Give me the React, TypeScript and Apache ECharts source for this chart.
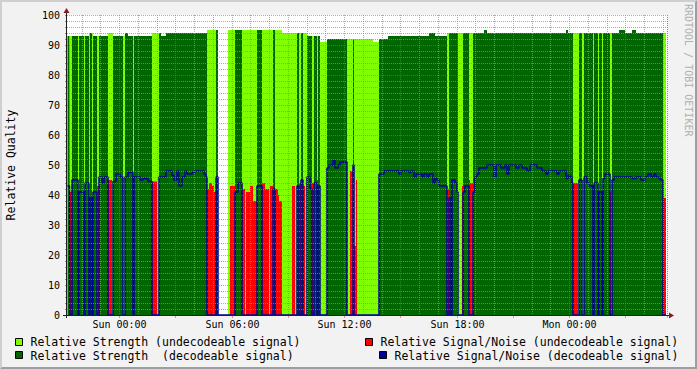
import React, { useEffect, useRef } from "react";
import * as echarts from "echarts";

// Each run: [number of 192-second slots, kind, relative strength, relative S/N]
// kind: D = decodeable signal, U = undecodeable signal, G = no data
type Run = [number, string, number, number];

// Sat 21:13 – Sun 02:49
const runsLateSat: Run[] = [
  [3, "D", 93, 43], [2, "U", 93, 41], [6, "D", 93, 45], [1, "U", 93, 0], [5, "D", 93, 41],
  [1, "U", 93, 0], [4, "D", 93, 44], [1, "U", 94, 0], [2, "D", 94, 39], [1, "U", 94, 39],
  [4, "D", 93, 41], [2, "U", 93, 43], [3, "D", 93, 46], [2, "D", 93, 44], [4, "D", 93, 46],
  [4, "U", 94, 45], [1, "U", 94, 0], [3, "D", 93, 44.5], [4, "D", 93, 47], [3, "D", 93, 46],
  [2, "U", 93, 0], [3, "D", 94, 46], [5, "D", 93, 47.5], [1, "U", 93, 43], [6, "D", 93, 46],
  [3, "D", 93, 45], [5, "D", 93, 45.5], [4, "D", 93, 44.5], [5, "U", 94, 44.5], [2, "U", 94, 0],
  [2, "D", 94, 46], [5, "D", 93, 46], [6, "D", 94, 48],
];
// Sun 02:49 – Sun 08:19
const runsEarlySun: Run[] = [
  [2, "D", 94, 46.5], [3, "D", 94, 45], [2, "D", 94, 48], [3, "D", 94, 43], [3, "D", 94, 46],
  [2, "D", 94, 48], [5, "D", 94, 47], [3, "D", 94, 47.5], [9, "D", 94, 48], [2, "D", 94, 47],
  [1, "D", 94, 46], [2, "U", 95, 42], [3, "U", 95, 44], [2, "U", 95, 43], [2, "U", 95, 41],
  [2, "D", 95, 46], [10, "G", 0, 0], [2, "U", 95, 0], [5, "U", 95, 43], [3, "D", 95, 41],
  [4, "D", 95, 44], [3, "U", 95, 42], [1, "U", 95, 0], [4, "U", 95, 41], [3, "U", 95, 43],
  [4, "U", 95, 38], [5, "D", 95, 43], [3, "U", 95, 44], [4, "U", 95, 42], [1, "U", 95, 0],
  [3, "U", 95, 43], [2, "D", 95, 42],
];
// Sun 08:19 – Sun 13:52
const runsSunMidday: Run[] = [
  [3, "U", 95, 42], [1, "U", 95, 40], [3, "U", 95, 38], [10, "U", 94, 0], [3, "U", 94, 43],
  [2, "U", 94, 0], [2, "D", 94, 43], [2, "U", 94, 44], [2, "D", 94, 45], [2, "U", 94, 43],
  [2, "U", 94, 0], [3, "D", 93, 46], [2, "D", 93, 42], [2, "U", 93, 44], [3, "D", 93, 44],
  [1, "U", 93, 45], [2, "D", 93, 43], [7, "U", 91, 0], [2, "D", 92, 49], [4, "D", 92, 50],
  [2, "D", 92, 51.5], [3, "D", 92, 49], [2, "D", 92, 50], [7, "D", 92, 51], [3, "U", 92, 0],
  [3, "U", 92, 48], [1, "D", 92, 50], [2, "U", 92, 23], [1, "U", 92, 45], [16, "U", 92, 0],
  [6, "U", 91, 0],
];
// Sun 13:52 – Sun 19:22
const runsSunAfternoon: Run[] = [
  [5, "D", 92, 47], [4, "D", 92, 48], [11, "D", 93, 48], [2, "D", 93, 47], [8, "D", 93, 48],
  [2, "D", 93, 47.5], [3, "D", 93, 48], [2, "D", 93, 46], [6, "D", 93, 47], [2, "D", 93, 46],
  [3, "D", 93, 47], [2, "D", 93, 46], [4, "D", 94, 47], [2, "D", 94, 44], [2, "D", 93, 45.5],
  [2, "D", 93, 45], [8, "D", 93, 43], [2, "U", 94, 42], [2, "D", 94, 39], [1, "D", 94, 0],
  [3, "D", 94, 45], [2, "D", 94, 44], [1, "D", 94, 41], [4, "U", 94, 0], [1, "U", 94, 43],
  [2, "D", 94, 41], [4, "D", 94, 43], [1, "U", 94, 45], [3, "U", 94, 44], [2, "D", 94, 41],
  [2, "D", 94, 46], [2, "D", 94, 47], [3, "D", 94, 49],
];
// Sun 19:22 – Mon 00:48
const runsSunEvening: Run[] = [
  [2, "D", 94, 49], [3, "D", 95, 49], [7, "D", 94, 50], [2, "D", 94, 46], [5, "D", 94, 50],
  [4, "D", 94, 49], [2, "D", 94, 50], [2, "D", 94, 47], [7, "D", 94, 50], [3, "D", 94, 49],
  [3, "D", 94, 50], [5, "D", 94, 49], [3, "D", 94, 48], [7, "D", 94, 50], [5, "D", 94, 49],
  [4, "D", 94, 48], [2, "D", 94, 47], [9, "D", 94, 48], [2, "D", 94, 47], [7, "D", 94, 48],
  [2, "D", 95, 45.5], [2, "D", 94, 46.5], [2, "D", 94, 46], [1, "D", 94, 44], [5, "U", 94, 44],
  [1, "U", 94, 0], [3, "D", 94, 45], [2, "U", 94, 0],
];
// Mon 00:48 – Mon 05:13
const runsEarlyMon: Run[] = [
  [3, "D", 94, 46], [2, "D", 94, 44], [4, "D", 94, 43], [1, "U", 94, 0], [4, "D", 94, 44],
  [1, "U", 94, 0], [3, "D", 94, 41], [1, "U", 94, 0], [2, "D", 94, 45.5], [5, "D", 94, 47],
  [1, "U", 94, 41], [1, "U", 94, 0], [2, "D", 94, 45], [5, "D", 94, 46], [6, "D", 95, 46],
  [7, "D", 94, 46], [4, "D", 95, 45.5], [5, "D", 94, 46], [4, "D", 94, 45], [3, "D", 94, 46],
  [3, "D", 94, 47], [3, "D", 94, 46], [2, "D", 94, 47], [3, "D", 94, 46], [2, "D", 94, 45.5],
  [2, "D", 94, 45], [3, "U", 94, 39], [1, "G", 0, 0],
];

const legendNames = [
  "Relative Strength (undecodeable signal)",
  "Relative Strength  (decodeable signal)",
  "Relative Signal/Noise (undecodeable signal)",
  "Relative Signal/Noise (decodeable signal)",
];
const yTitle = "Relative Quality";
const watermark = "RRDTOOL / TOBI OETIKER";

const SLOT_SECONDS = 192;
const SUNDAY_MIDNIGHT_SLOT = 52;
const DAYS = ["Sat", "Sun", "Mon", "Tue"];

const COLORS = {
  lightGreen: "#80FF00",
  darkGreen: "#006600",
  red: "#FF0000",
  blue: "#000099",
  grid: "rgba(143,143,143,0.75)",
  mgrid: "rgba(222,79,79,0.6)",
  axis: "#1F1F1F",
  arrow: "#801F1F",
  back: "#F2F2F2",
};
const FONT = '"DejaVu Sans Mono", monospace';

const allRuns: Run[] = [
  ...runsLateSat, ...runsEarlySun, ...runsSunMidday,
  ...runsSunAfternoon, ...runsSunEvening, ...runsEarlyMon,
];

const strengthU: number[] = [];
const strengthD: number[] = [];
const snrU: number[] = [];
const snrD: number[] = [];
allRuns.forEach(([len, kind, s, n]) => {
  for (let k = 0; k < len; k++) {
    strengthU.push(kind === "U" ? s : 0);
    strengthD.push(kind === "D" ? s : 0);
    snrU.push(kind === "U" ? n : 0);
    snrD.push(kind === "D" ? n : 0);
  }
});

const slotStart = (i: number) => (i - SUNDAY_MIDNIGHT_SLOT) * SLOT_SECONDS - SLOT_SECONDS / 2;
const crosses = (i: number, step: number) => {
  const s = slotStart(i);
  return Math.ceil(s / step) * step < s + SLOT_SECONDS;
};
const pad = (v: number) => String(v).padStart(2, "0");
const fmt = (t: number) => {
  const day = DAYS[Math.floor(t / 86400) + 1];
  const sec = ((t % 86400) + 86400) % 86400;
  return `${day} ${pad(Math.floor(sec / 3600))}:${pad(Math.floor((sec % 3600) / 60))}`;
};
const slotNames = strengthU.map((_, i) => fmt(slotStart(i) + SLOT_SECONDS / 2));
const boundaryLabel = (i: number, step: number) => fmt(Math.ceil(slotStart(i) / step) * step);

export default function App() {
  const ref = useRef<HTMLDivElement>(null);
  useEffect(() => {
    if (!ref.current) return;
    const chart = echarts.init(ref.current, undefined, { renderer: "svg" });
    const legendItems = [
      { name: legendNames[0], color: COLORS.lightGreen, bx: 15.5, by: 338.5, tx: 30.5, ty: 342 },
      { name: legendNames[1], color: COLORS.darkGreen, bx: 15.5, by: 351.5, tx: 30.5, ty: 355.5 },
      { name: legendNames[2], color: COLORS.red, bx: 365.5, by: 338.5, tx: 380.5, ty: 342 },
      { name: legendNames[3], color: COLORS.blue, bx: 379.5, by: 351.5, tx: 394.5, ty: 355.5 },
    ];
    const graphics: any[] = [
      { type: "polygon", z: 100, shape: { points: [[0, 0], [697, 0], [695, 2], [2, 2], [2, 367], [0, 369]] }, style: { fill: "#CFCFCF" } },
      { type: "polygon", z: 100, shape: { points: [[0, 369], [697, 369], [697, 0], [695, 2], [695, 367], [2, 367]] }, style: { fill: "#9E9E9E" } },
      { type: "line", z: 100, shape: { x1: 63, y1: 315.5, x2: 670, y2: 315.5 }, style: { stroke: COLORS.axis, lineWidth: 1 } },
      { type: "line", z: 100, shape: { x1: 66.5, y1: 318, x2: 66.5, y2: 12 }, style: { stroke: COLORS.axis, lineWidth: 1 } },
      { type: "polygon", z: 101, shape: { points: [[669, 312.5], [674, 315.5], [669, 318.5]] }, style: { fill: COLORS.arrow } },
      { type: "polygon", z: 101, shape: { points: [[63.5, 13], [66.5, 8], [69.5, 13]] }, style: { fill: COLORS.arrow } },
      {
        type: "text", z: 100, x: 11, y: 165, rotation: Math.PI / 2,
        style: { text: yTitle, font: `11.5px ${FONT}`, fill: "#000", align: "center", verticalAlign: "middle" },
      },
      {
        type: "text", z: 100, x: 688, y: 4, rotation: -Math.PI / 2,
        style: { text: watermark, font: `10px ${FONT}`, fill: "#B0B0B0", align: "left", verticalAlign: "middle" },
      },
    ];
    legendItems.forEach((it) => {
      graphics.push({ type: "rect", z: 100, shape: { x: it.bx, y: it.by, width: 7, height: 7 }, style: { fill: it.color, stroke: "#000", lineWidth: 1 } });
      graphics.push({ type: "text", z: 100, x: it.tx, y: it.ty, style: { text: it.name, font: `11.5px ${FONT}`, fill: "#000", align: "left", verticalAlign: "middle" } });
    });

    const areaCommon = {
      type: "line", step: "middle", symbol: "none", showSymbol: false, silent: true,
      xAxisIndex: 0, yAxisIndex: 0, z: 2, lineStyle: { width: 0, opacity: 0 },
    };
    chart.setOption({
      animation: false,
      backgroundColor: COLORS.back,
      grid: { left: 67, right: 30, top: 15, bottom: 54, show: true, backgroundColor: "#FFFFFF", borderWidth: 0 },
      xAxis: [
        {
          type: "category", data: slotNames, boundaryGap: true, position: "bottom", z: 3,
          axisLine: { show: false }, axisTick: { show: false }, axisLabel: { show: false },
          splitLine: { show: true, interval: (i: number) => crosses(i, 3600) && !crosses(i, 10800), lineStyle: { color: COLORS.grid, type: [1, 1], width: 1 } },
        },
        {
          type: "category", data: slotNames, boundaryGap: true, position: "bottom", z: 3,
          axisLine: { show: false },
          axisTick: { show: true, interval: (i: number) => crosses(i, 10800), length: 3, lineStyle: { color: COLORS.mgrid } },
          axisLabel: {
            show: true, interval: (i: number) => crosses(i, 21600), formatter: (_v: string, i: number) => boundaryLabel(i, 21600),
            margin: 4, fontFamily: FONT, fontSize: 10, color: "#000",
          },
          splitLine: { show: true, interval: (i: number) => crosses(i, 10800), lineStyle: { color: COLORS.mgrid, type: [1, 1], width: 1 } },
        },
      ],
      yAxis: {
        type: "value", min: 0, max: 100, interval: 10, z: 3,
        axisLine: { show: false },
        axisTick: { show: true, length: 2, lineStyle: { color: "#8F8F8F" } },
        minorTick: { show: true, splitNumber: 5, length: 2, lineStyle: { color: "#8F8F8F" } },
        axisLabel: { margin: 7, fontFamily: FONT, fontSize: 10, color: "#000" },
        splitLine: { show: true, lineStyle: { color: COLORS.mgrid, type: [1, 1], width: 1 } },
        minorSplitLine: { show: true, lineStyle: { color: COLORS.grid, type: [1, 1], width: 1 } },
      },
      series: [
        { ...areaCommon, name: legendNames[0], data: strengthU, areaStyle: { color: COLORS.lightGreen, opacity: 1 } },
        { ...areaCommon, name: legendNames[1], data: strengthD, areaStyle: { color: COLORS.darkGreen, opacity: 1 } },
        { ...areaCommon, name: legendNames[2], data: snrU, areaStyle: { color: COLORS.red, opacity: 1 } },
        {
          type: "line", name: legendNames[3], data: snrD, step: "middle", symbol: "none", showSymbol: false,
          silent: true, z: 2, lineStyle: { color: COLORS.blue, width: 1.5 },
        },
      ],
      graphic: graphics,
    });
    return () => chart.dispose();
  }, []);
  return (
    <div
      ref={ref}
      style={{ position: "fixed", left: 0, top: 0, width: 697, height: 369, background: COLORS.back }}
    />
  );
}
